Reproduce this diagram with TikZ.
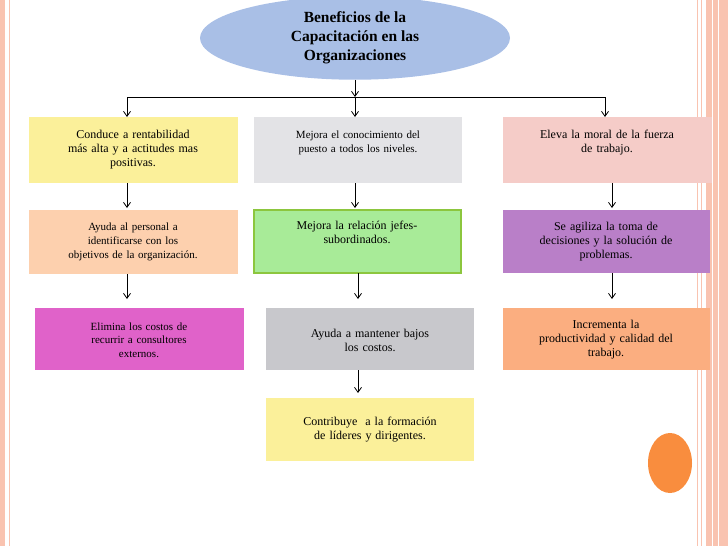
\documentclass[tikz,border=0pt]{standalone}
\usepackage{fontspec}
\setmainfont{Liberation Serif}
\usetikzlibrary{shapes.geometric,arrows.meta}
\definecolor{bord}{HTML}{F9C3B0}
\definecolor{ell}{HTML}{A9BFE6}
\definecolor{cyel}{HTML}{FBF09A}
\definecolor{cgra}{HTML}{E3E3E6}
\definecolor{cpin}{HTML}{F5CCC8}
\definecolor{cpea}{HTML}{FDD0AE}
\definecolor{cgrn}{HTML}{A8EB98}
\definecolor{cgrb}{HTML}{8CC63E}
\definecolor{cpur}{HTML}{B97FC8}
\definecolor{cmag}{HTML}{E062C9}
\definecolor{cgr2}{HTML}{C8C8CC}
\definecolor{cora}{HTML}{FBAE80}
\definecolor{cdot}{HTML}{F98D3E}
\tikzset{x=1pt,y=-1pt,
 box/.style={draw=none,rectangle,anchor=north west,inner sep=2pt,align=center,font=\fontsize{12}{14}\selectfont},
 con/.style={-{Straight Barb[length=5pt,width=7pt]},line width=0.8pt}}
\begin{document}
\begin{tikzpicture}
\useasboundingbox (0,0) rectangle (728,546);
\fill[bord] (0,0) rectangle (5,546);
\draw[bord,line width=1pt] (9,0) -- (9,546);
\draw[bord,line width=1pt] (697,0) -- (697,546);
\draw[bord,line width=1pt] (701,0) -- (701,546);
\fill[bord] (706,0) rectangle (728,546);
\draw[white,line width=0.8pt] (712,0) -- (712,546);
\draw[white,line width=0.8pt] (718,0) -- (718,546);
\node[ellipse,fill=ell,minimum width=310,minimum height=74,align=center,font=\bfseries\fontsize{15.5}{19}\selectfont] (t) at (355,38) {Beneficios de la\\Capacitación en las\\Organizaciones};
\newcommand{\bx}[7]{\fill[#6] (#2,#3) rectangle (#4,#5); \node[box,text width=#4-#2-6,anchor=center] (#1) at ({(#2+#4)/2},{(#3+#5)/2}) {#7};}
\fill[cyel] (29,117) rectangle (238,183);
\node[box,anchor=center,text width=200] (b1) at (133,150) {Conduce a rentabilidad\\más alta y a actitudes mas\\positivas.};
\fill[cgra] (254,117) rectangle (462,183);
\node[box,anchor=center,text width=200,font=\fontsize{11}{14}\selectfont] (b2) at (358,143) {Mejora el conocimiento del\\puesto a todos los niveles.};
\fill[cpin] (503,117) rectangle (712,183);
\node[box,anchor=center,text width=200] (b3) at (607,143) {Eleva la moral de la fuerza\\de trabajo.};
\fill[cpea] (29,210) rectangle (238,274);
\node[box,anchor=center,text width=200,font=\fontsize{11}{14}\selectfont] (b4) at (133,242) {Ayuda al personal a\\identificarse con los\\objetivos de la organización.};
\fill[cgrn,draw=cgrb,line width=1.2pt] (254,210) rectangle (461,273);
\node[box,anchor=center,text width=200] (b5) at (357,232) {Mejora la relación jefes-\\subordinados.};
\fill[cpur] (503,210) rectangle (710,273);
\node[box,anchor=center,text width=200] (b6) at (606,242) {Se agiliza la toma de\\decisiones y la solución de\\problemas.};
\fill[cmag] (35,308) rectangle (244,370);
\node[box,anchor=center,text width=200,font=\fontsize{11}{13.5}\selectfont] (b7) at (139,340) {Elimina los costos de\\recurrir a consultores\\externos.};
\fill[cgr2] (266,308) rectangle (474,370);
\node[box,anchor=center,text width=200] (b8) at (370,340) {Ayuda a mantener bajos\\los costos.};
\fill[cora] (503,308) rectangle (710,370);
\node[box,anchor=center,text width=200] (b9) at (606,340) {Incrementa la\\productividad y calidad del\\trabajo.};
\fill[cyel] (266,398) rectangle (474,461);
\node[box,anchor=center,text width=200] (b10) at (370,430) {Contribuye\ \ a la formación\\de líderes y dirigentes.};
\fill[cdot] (670,463) ellipse (22 and 30);
% connectors
\coordinate (j) at (355,97);
\coordinate (jl) at (127,97);
\coordinate (jr) at (605,97);
\draw[con] (t.south) -- (j);
\draw[line width=0.8pt] (jl) -- (jr);
\draw[con] (jl) -- (127,117);
\draw[con] (j) -- (355,117);
\draw[con] (jr) -- (605,117);
\draw[con] (127,183) -- (127,208);
\draw[con] (355,183) -- (355,208);
\draw[con] (612,183) -- (612,208);
\draw[con] (127,274) -- (127,299);
\draw[con] (358,273) -- (358,299);
\draw[con] (612,273) -- (612,299);
\draw[con] (358,370) -- (358,393);
\end{tikzpicture}
\end{document}
